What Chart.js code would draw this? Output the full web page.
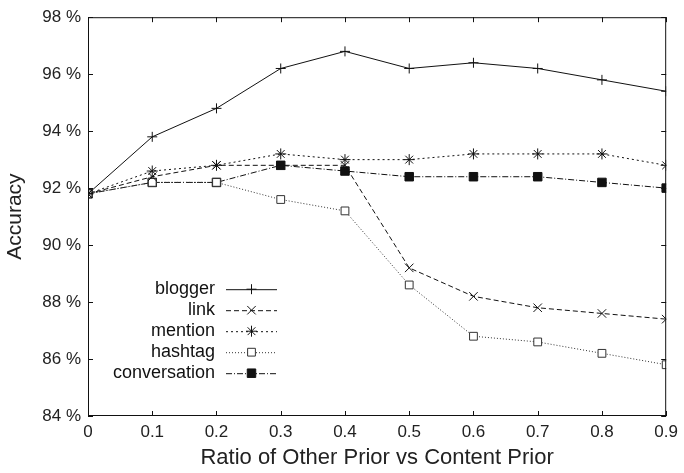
<!DOCTYPE html>
<html>
<head>
<meta charset="utf-8">
<script src="https://cdn.jsdelivr.net/npm/chart.js@4"></script>
<style>
  html, body { margin: 0; padding: 0; background: #fff; }
  #wrap { width: 684px; height: 473px; }
</style>
</head>
<body>
<div id="wrap"><canvas id="accChart" width="684" height="473"></canvas></div>
<script>
const ratios = [0, 0.1, 0.2, 0.3, 0.4, 0.5, 0.6, 0.7, 0.8, 0.9];
const blogger = [91.8, 93.8, 94.8, 96.2, 96.8, 96.2, 96.4, 96.2, 95.8, 95.4];
const link = [91.8, 92.4, 92.8, 92.8, 92.8, 89.2, 88.2, 87.8, 87.6, 87.4];
const mention = [91.8, 92.6, 92.8, 93.2, 93.0, 93.0, 93.2, 93.2, 93.2, 92.8];
const hashtag = [91.8, 92.2, 92.2, 91.6, 91.2, 88.6, 86.8, 86.6, 86.2, 85.8];
const conversation = [91.8, 92.2, 92.2, 92.8, 92.6, 92.4, 92.4, 92.4, 92.2, 92.0];
const yTicks = [84, 86, 88, 90, 92, 94, 96, 98];
const xTicks = [0, 0.1, 0.2, 0.3, 0.4, 0.5, 0.6, 0.7, 0.8, 0.9];

const FONT = "'Liberation Sans', Arial, Helvetica, sans-serif";

function pts(values) {
  return ratios.map((r, i) => ({ x: r, y: values[i] }));
}

function series(label, values, dash, style, color, fill, radius) {
  return {
    label: label,
    data: pts(values),
    borderColor: color,
    borderWidth: 1,
    borderDash: dash,
    pointStyle: style,
    pointRadius: radius,
    pointBorderColor: color,
    pointBackgroundColor: fill,
    pointBorderWidth: 1,
    fill: false,
    tension: 0
  };
}

// inward tick marks on all four sides plus the frame
const frameTicks = {
  id: "frameTicks",
  afterDatasetsDraw(chart) {
    const c = chart.ctx, a = chart.chartArea;
    const xs = chart.scales.x, ys = chart.scales.y;
    c.save();
    c.strokeStyle = "#111";
    c.lineWidth = 1;
    c.setLineDash([]);
    c.strokeRect(a.left + 0.5, a.top + 0.5, a.right - a.left - 1, a.bottom - a.top - 1);
    c.beginPath();
    xTicks.forEach(v => {
      const px = Math.round(xs.getPixelForValue(v)) + 0.5;
      c.moveTo(px, a.bottom); c.lineTo(px, a.bottom - 5);
      c.moveTo(px, a.top); c.lineTo(px, a.top + 5);
    });
    yTicks.forEach(v => {
      const py = Math.round(ys.getPixelForValue(v)) + 0.5;
      c.moveTo(a.left, py); c.lineTo(a.left + 5, py);
      c.moveTo(a.right, py); c.lineTo(a.right - 5, py);
    });
    c.stroke();
    c.restore();
  }
};

// gnuplot-style key: label on the left, line sample with marker on the right
const keyBox = {
  id: "keyBox",
  afterDatasetsDraw(chart) {
    const c = chart.ctx, a = chart.chartArea;
    const textRight = a.left + 127;
    const lineL = a.left + 138, lineR = a.left + 189;
    let y = a.top + 272;
    c.save();
    c.font = "18px " + FONT;
    c.textAlign = "right";
    c.textBaseline = "middle";
    chart.data.datasets.forEach(ds => {
      c.fillStyle = "#111";
      c.fillText(ds.label, textRight, y);
      c.strokeStyle = ds.borderColor;
      c.lineWidth = 1;
      c.setLineDash(ds.borderDash || []);
      c.beginPath();
      c.moveTo(lineL, y + 0.5); c.lineTo(lineR, y + 0.5);
      c.stroke();
      c.setLineDash([]);
      c.fillStyle = ds.pointBackgroundColor;
      c.strokeStyle = ds.pointBorderColor;
      Chart.helpers.drawPoint(c, {
        pointStyle: ds.pointStyle, radius: ds.pointRadius, rotation: 0, borderWidth: 1
      }, (lineL + lineR) / 2, y);
      y += 21;
    });
    c.restore();
  }
};

const config = {
  type: "line",
  data: {
    datasets: [
      series("blogger", blogger, [], "cross", "#111", "#111", 5),
      series("link", link, [5, 3], "crossRot", "#111", "#111", 6),
      series("mention", mention, [2, 3], "star", "#111", "#111", 5.5),
      series("hashtag", hashtag, [1, 2], "rect", "#333", "#fff", 5.5),
      series("conversation", conversation, [6, 2, 1, 2], "rect", "#111", "#111", 6)
    ]
  },
  options: {
    responsive: false,
    animation: false,
    layout: { padding: { top: 15, right: 14, left: 0, bottom: 0 } },
    plugins: {
      legend: { display: false },
      tooltip: { enabled: false }
    },
    scales: {
      x: {
        type: "linear",
        min: 0,
        max: 0.9,
        afterBuildTicks(s) { s.ticks = xTicks.map(v => ({ value: v })); },
        afterFit(s) { s.height = 57; },
        grid: { display: false, drawTicks: false },
        border: { display: false },
        ticks: {
          color: "#222",
          padding: 6,
          font: { family: FONT, size: 17 },
          callback: v => String(Math.round(v * 10) / 10)
        },
        title: {
          display: true,
          text: "Ratio of Other Prior vs Content Prior",
          color: "#222",
          font: { family: FONT, size: 22 },
          padding: { top: 2, bottom: 2 }
        }
      },
      y: {
        min: 84,
        max: 98,
        afterBuildTicks(s) { s.ticks = yTicks.map(v => ({ value: v })); },
        afterFit(s) { s.width = 88; },
        grid: { display: false, drawTicks: false },
        border: { display: false },
        ticks: {
          color: "#222",
          padding: 7,
          font: { family: FONT, size: 17 },
          callback: v => v + " %"
        },
        title: {
          display: true,
          text: "Accuracy",
          color: "#222",
          font: { family: FONT, size: 21 },
          padding: { top: 3, bottom: 0 }
        }
      }
    }
  },
  plugins: [frameTicks, keyBox]
};

new Chart(document.getElementById("accChart").getContext("2d"), config);
</script>
</body>
</html>
